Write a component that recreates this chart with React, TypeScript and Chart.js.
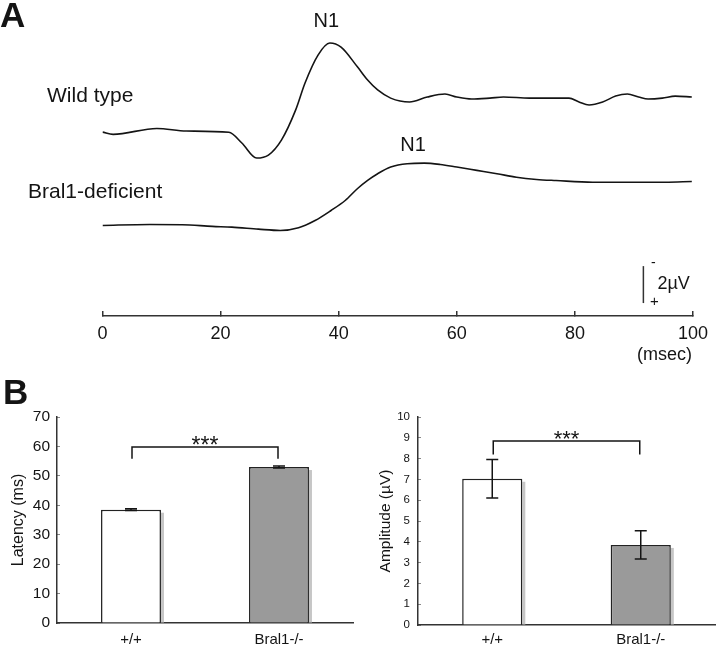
import React, { useEffect, useRef } from "react";
import { Chart, registerables } from "chart.js";
Chart.register(...registerables);

const FONT = "'Liberation Sans', Arial, Helvetica, sans-serif";
const INK = "#141414";

// ---- Panel A: evoked potential traces (time in ms, potential in µV, negative up)
const wildTypeMs = [0, 1.8, 9.2, 14.2, 21.4, 23.6, 26.1, 28.1, 30.3, 32.7, 34.3, 36.5, 38.5, 40.4, 43.2, 44.9, 46.6, 48.8, 52.0, 55.0, 58.0, 60.0, 62.5, 65.6, 67.9, 72.3, 79.0, 80.7, 82.4, 84.7, 86.9, 88.9, 90.8, 92.4, 94.8, 97.0, 99.8];
const wildTypeUv = [-0.05, 0.07, -0.25, -0.11, -0.04, 0.54, 1.35, 1.19, 0.38, -1.24, -2.71, -4.22, -4.87, -4.65, -3.57, -2.87, -2.33, -1.89, -1.68, -1.95, -2.11, -1.95, -1.84, -1.89, -1.95, -1.89, -1.89, -1.68, -1.52, -1.68, -2.0, -2.11, -1.95, -1.84, -1.89, -2.0, -1.95];
const bralMs = [0, 8.0, 13.5, 18.6, 21.9, 26.4, 30.1, 33.2, 36.0, 38.7, 41.1, 43.2, 44.9, 46.6, 48.8, 51.6, 54.5, 57.2, 60.0, 63.4, 66.8, 70.1, 73.5, 76.8, 83.0, 89.1, 95.3, 99.8];
const bralUv = [0, -0.05, -0.04, 0.05, 0.09, 0.2, 0.27, 0.12, -0.27, -0.81, -1.35, -2.0, -2.44, -2.8, -3.16, -3.34, -3.37, -3.3, -3.16, -2.98, -2.8, -2.61, -2.49, -2.43, -2.34, -2.34, -2.34, -2.38];
const bralTraceOffset = 5.0; // vertical stacking of the second trace (µV)
const timeTicksStep = 20;
const timeMax = 100;
const scaleBarMs = 91.6;
const scaleBarFrom = 7.2;
const scaleBarUv = 2;
const n1WildMs = 37.9;
const n1BralMs = 52.6;

// ---- Panel B: bar charts
const groups = ["+/+", "Bral1-/-"];
const latencyMean = [38.5, 53.0];
const latencyErr = [0.3, 0.35];
const amplitudeMean = [7.03, 3.85];
const amplitudeErr = [0.93, 0.68];
const latencyMax = 70;
const latencyStep = 10;
const amplitudeMax = 10;
const amplitudeStep = 1;
const latencyBracket = [59.8, 55.8];
const amplitudeBracket = [8.85, 8.2];

const barFills = ["#ffffff", "#9a9a9a"];

function makeBarDecor(errs: number[], bracket: number[], starSize: number, panelLabel?: string) {
  return {
    id: "barDecor",
    beforeDatasetsDraw(chart: any) {
      const ctx = chart.ctx;
      const meta = chart.getDatasetMeta(0);
      ctx.save();
      ctx.fillStyle = "#c6c6c6";
      meta.data.forEach((bar: any) => {
        const { x, y, base, width } = bar.getProps(["x", "y", "base", "width"], true);
        ctx.fillRect(x + width / 2, y + 3, 3, base - y - 3);
      });
      ctx.restore();
    },
    afterDatasetsDraw(chart: any) {
      const ctx = chart.ctx;
      const ys = chart.scales.y;
      const meta = chart.getDatasetMeta(0);
      const means = chart.data.datasets[0].data;
      ctx.save();
      ctx.strokeStyle = INK;
      ctx.lineWidth = 1.5;
      meta.data.forEach((bar: any, i: number) => {
        const x = bar.x;
        const yT = ys.getPixelForValue(means[i] + errs[i]);
        const yB = ys.getPixelForValue(means[i] - errs[i]);
        ctx.beginPath();
        ctx.moveTo(x, yT);
        ctx.lineTo(x, yB);
        ctx.moveTo(x - 6, yT);
        ctx.lineTo(x + 6, yT);
        ctx.moveTo(x - 6, yB);
        ctx.lineTo(x + 6, yB);
        ctx.stroke();
      });
      // significance bracket
      const xs = chart.scales.x;
      const x1 = xs.getPixelForValue(0) + 1;
      const x2 = xs.getPixelForValue(1) - 1;
      const yb = ys.getPixelForValue(bracket[0]);
      const yd = ys.getPixelForValue(bracket[1]);
      ctx.beginPath();
      ctx.moveTo(x1, yd);
      ctx.lineTo(x1, yb);
      ctx.lineTo(x2, yb);
      ctx.lineTo(x2, yd);
      ctx.stroke();
      ctx.fillStyle = INK;
      ctx.font = `${starSize}px ${FONT}`;
      ctx.textAlign = "center";
      ctx.textBaseline = "alphabetic";
      ctx.fillText("***", (x1 + x2) / 2, yb + 5.5);
      if (panelLabel) {
        ctx.font = `bold 35px ${FONT}`;
        ctx.textAlign = "left";
        ctx.fillText(panelLabel, 3, 44);
      }
      ctx.restore();
    },
  };
}

function makeBarChart(
  canvas: HTMLCanvasElement,
  means: number[],
  errs: number[],
  max: number,
  step: number,
  title: string,
  geo: { padRight: number; yWidth: number; xHeight: number; tickSize: number; tickPad: number; titleSize: number; titlePad: number; xPad: number },
  bracket: number[],
  starSize: number,
  panelLabel?: string
) {
  return new Chart(canvas, {
    type: "bar",
    data: {
      labels: groups,
      datasets: [
        {
          data: means,
          backgroundColor: barFills,
          borderColor: "#222",
          borderWidth: 1.5,
          barPercentage: 0.405,
          categoryPercentage: 1,
        },
      ],
    },
    options: {
      responsive: false,
      animation: false,
      layout: { padding: { top: 57, right: geo.padRight, left: 0, bottom: 0 } },
      plugins: { legend: { display: false }, tooltip: { enabled: false } },
      scales: {
        x: {
          afterFit: (s: any) => {
            s.height = geo.xHeight;
          },
          ticks: { font: { family: FONT, size: 15 }, color: INK, padding: geo.xPad, maxRotation: 0 },
          grid: { display: false, drawTicks: false, tickLength: 0 },
          border: { display: true, color: "#333", width: 1.5 },
        },
        y: {
          min: 0,
          max: max,
          afterFit: (s: any) => {
            s.width = geo.yWidth;
          },
          ticks: { stepSize: step, font: { family: FONT, size: geo.tickSize }, color: INK, padding: geo.tickPad },
          grid: { display: true, drawOnChartArea: false, drawTicks: true, tickLength: -3, color: "#888", lineWidth: 1 },
          border: { display: true, color: "#333", width: 1.5 },
          title: {
            display: true,
            text: title,
            color: INK,
            font: { family: FONT, size: geo.titleSize },
            padding: { top: geo.titlePad, bottom: 0 },
          },
        },
      },
    } as any,
    plugins: [makeBarDecor(errs, bracket, starSize, panelLabel)],
  });
}

const panelAText = {
  id: "panelAText",
  afterDraw(chart: any) {
    const ctx = chart.ctx;
    const xs = chart.scales.x;
    const ys = chart.scales.y;
    ctx.save();
    ctx.fillStyle = INK;
    ctx.textBaseline = "alphabetic";
    ctx.textAlign = "left";
    ctx.font = `bold 35px ${FONT}`;
    ctx.fillText("A", 0, 27);
    ctx.font = `21px ${FONT}`;
    ctx.fillText("Wild type", 47, 102);
    ctx.fillText("Bral1-deficient", 28, 198);
    ctx.font = `20px ${FONT}`;
    ctx.textAlign = "center";
    ctx.fillText("N1", xs.getPixelForValue(n1WildMs), 27);
    ctx.fillText("N1", xs.getPixelForValue(n1BralMs), 151);
    ctx.textAlign = "left";
    ctx.font = `18px ${FONT}`;
    ctx.fillText("(msec)", 637, 360);
    // scale bar
    const sx = xs.getPixelForValue(scaleBarMs);
    const y1 = ys.getPixelForValue(scaleBarFrom);
    const y2 = ys.getPixelForValue(scaleBarFrom + scaleBarUv);
    ctx.strokeStyle = "#333";
    ctx.lineWidth = 1.5;
    ctx.beginPath();
    ctx.moveTo(sx, y1);
    ctx.lineTo(sx, y2);
    ctx.stroke();
    ctx.font = `18px ${FONT}`;
    ctx.fillText(`${scaleBarUv}µV`, sx + 14, 289);
    ctx.font = `14px ${FONT}`;
    ctx.textAlign = "center";
    ctx.textBaseline = "middle";
    ctx.fillText("-", sx + 10, y1 - 3);
    ctx.font = `15px ${FONT}`;
    ctx.fillText("+", sx + 11, y2 - 1);
    ctx.restore();
  },
};

export default function App() {
  const aRef = useRef<HTMLCanvasElement>(null);
  const lRef = useRef<HTMLCanvasElement>(null);
  const rRef = useRef<HTMLCanvasElement>(null);

  useEffect(() => {
    const charts: Chart[] = [];
    const wt = wildTypeMs.map((x, i) => ({ x, y: wildTypeUv[i] }));
    const br = bralMs.map((x, i) => ({ x, y: bralUv[i] + bralTraceOffset }));
    charts.push(
      new Chart(aRef.current!, {
        type: "line",
        data: {
          datasets: [
            { label: "Wild type", data: wt, borderColor: INK, borderWidth: 1.6, pointRadius: 0, cubicInterpolationMode: "monotone", fill: false },
            { label: "Bral1-deficient", data: br, borderColor: INK, borderWidth: 1.6, pointRadius: 0, cubicInterpolationMode: "monotone", fill: false },
          ],
        },
        options: {
          responsive: false,
          animation: false,
          layout: { padding: { left: 102.5, right: 22, top: 0, bottom: 0 } },
          plugins: { legend: { display: false }, tooltip: { enabled: false } },
          scales: {
            x: {
              type: "linear",
              min: 0,
              max: timeMax,
              afterFit: (s: any) => {
                s.height = 56;
              },
              ticks: { stepSize: timeTicksStep, font: { family: FONT, size: 18 }, color: INK, padding: 12, maxRotation: 0, autoSkip: false },
              grid: { display: true, drawOnChartArea: false, drawTicks: true, tickLength: -5, color: "#333", lineWidth: 1.5 },
              border: { display: true, color: "#333", width: 1.5 },
            },
            y: { display: false, reverse: true, min: -7.2, max: 9.9 },
          },
        } as any,
        plugins: [panelAText],
      })
    );
    charts.push(
      makeBarChart(
        lRef.current!,
        latencyMean,
        latencyErr,
        latencyMax,
        latencyStep,
        "Latency (ms)",
        { padRight: 7, yWidth: 57, xHeight: 25, tickSize: 15.5, tickPad: 10, titleSize: 16, titlePad: 9.4, xPad: 8 },
        latencyBracket,
        23,
        "B"
      )
    );
    charts.push(
      makeBarChart(
        rRef.current!,
        amplitudeMean,
        amplitudeErr,
        amplitudeMax,
        amplitudeStep,
        "Amplitude (µV)",
        { padRight: 5, yWidth: 58, xHeight: 23, tickSize: 11.5, tickPad: 11, titleSize: 15.5, titlePad: 16.7, xPad: 6 },
        amplitudeBracket,
        22
      )
    );
    return () => charts.forEach((c) => c.destroy());
  }, []);

  return (
    <div style={{ position: "absolute", left: 0, top: 0, width: 720, height: 648, background: "#fff" }}>
      <canvas ref={aRef} width={720} height={372} style={{ position: "absolute", left: 0, top: 0 }} />
      <canvas ref={lRef} width={360} height={288} style={{ position: "absolute", left: 0, top: 360 }} />
      <canvas ref={rRef} width={360} height={288} style={{ position: "absolute", left: 360, top: 360 }} />
    </div>
  );
}
